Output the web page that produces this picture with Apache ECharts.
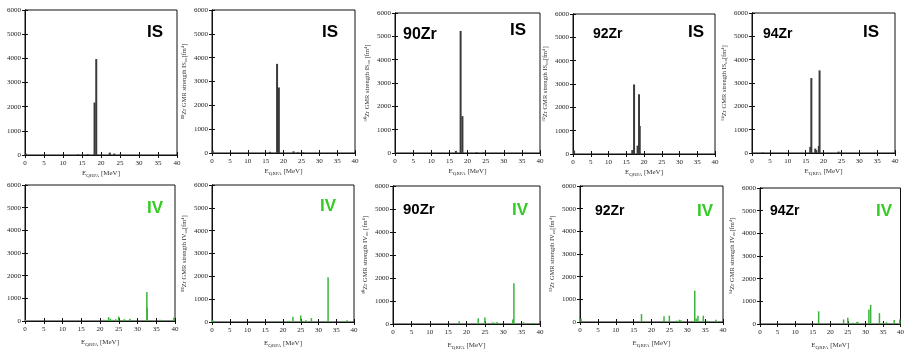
<!DOCTYPE html>
<html><head><meta charset="utf-8">
<script src="https://cdn.jsdelivr.net/npm/echarts@6/dist/echarts.min.js"></script>
<style>html,body{margin:0;padding:0;background:#fff}#c{width:907px;height:351px}</style>
</head><body><div id="c"></div>
<script>
// ---- data: [energy MeV, strength fm^4] ----
const IS_P1 = [[0.2,60],[14,20],[16.5,30],[18.3,2170],[18.75,3970],[22.3,100],[23.5,60],[25,20]];
const IS_P2 = [[0.2,100],[16.2,50],[18.2,3740],[18.7,2750],[22.8,70],[24,30],[25.5,20]];
const IS_90 = [[16.8,90],[18.1,5230],[18.6,1580],[22.5,30],[24.5,20]];
const IS_92 = [[0.3,150],[16.7,170],[17.2,2980],[18.2,360],[18.6,2560],[18.8,1200]];
const IS_94 = [[3,20],[16.3,260],[16.6,3210],[17.7,190],[18.0,120],[18.7,300],[18.9,3540],[24.2,60],[25,30]];
const IV_P1 = [[0.2,50],[21,50],[22.3,170],[22.8,100],[23.5,60],[24.2,80],[25,200],[26.5,80],[28,100],[32.5,1280],[32.6,580],[36,50],[38,30],[39.7,150]];
const IV_P2 = [[0.2,80],[18.3,40],[21.5,40],[22.8,230],[25,280],[26.5,80],[28,170],[32.7,1960],[36.5,40],[38,80]];
const IV_90 = [[18,120],[22,30],[23.2,250],[25,280],[27,70],[27.5,60],[28.3,90],[32.6,200],[32.9,1770],[35.5,80],[38,50],[38.5,30]];
const IV_92 = [[0.3,150],[17.2,350],[23.5,250],[25,280],[27,60],[27.8,100],[28.2,80],[32.1,1380],[32.5,150],[33,280],[34.5,280],[35.5,60],[36,40],[38,100],[39,30]];
const IV_94 = [[16.7,560],[18.5,20],[22,30],[23.8,200],[25,280],[26.5,50],[27.5,80],[27.8,100],[31,640],[31.5,840],[34,480],[35,60],[36,80],[38.2,180],[39.8,200]];
const xTickLabels = ['0','5','10','15','20','25','30','35','40'];
const yTickLabels = ['0','1000','2000','3000','4000','5000','6000'];
const yTitles = ['', '⁸⁸Zr GMR strength IS₀₀[fm⁴]', '⁹⁰Zr GMR strength IS₀₀ [fm⁴]', '⁹²Zr GMR strength IS₀₀[fm⁴]', '⁹⁴Zr GMR strength IS₀₀[fm⁴]',
                 '', '⁸⁸Zr GMR strength IV₀₀[fm⁴]', '⁹⁰Zr GMR strength IV₀₀ [fm⁴]', '⁹²Zr GMR strength IV₀₀[fm⁴]', '⁹⁴Zr GMR strength IV₀₀[fm⁴]'];
const nucLabels = ['', '', '90Zr', '92Zr', '94Zr', '', '', '90Zr', '92Zr', '94Zr'];
const modeLabels = ['IS','IS','IS','IS','IS','IV','IV','IV','IV','IV'];
const panelData = [IS_P1, IS_P2, IS_90, IS_92, IS_94, IV_P1, IV_P2, IV_90, IV_92, IV_94];

// ---- layout ----
const grids = [
  {left:25, top:10, width:152, height:145},
  {left:212, top:10, width:143, height:143},
  {left:395, top:13, width:145, height:140},
  {left:573, top:14, width:142, height:140},
  {left:752, top:13, width:143, height:140},
  {left:25, top:185, width:150, height:136},
  {left:212, top:185, width:142, height:137},
  {left:393, top:186, width:147, height:138},
  {left:580, top:186, width:143, height:136},
  {left:760, top:188, width:144, height:136}
];
const nucPos = [null,null,[403,27,16],[593,27,14],[763,27,14],null,null,[403,202,15],[595,204,14],[770,204,14]];
const modePos = [[147,24],[322,24],[510,22],[688,24],[863,24],[147,200],[320,198],[512,202],[697,203],[876,203]];

const serif = 'Liberation Serif';
const opt = {animation:false, backgroundColor:'#fff', grid:[], xAxis:[], yAxis:[], series:[], graphic:[]};
grids.forEach((g,i)=>{
  opt.grid.push(Object.assign({show:true, borderColor:'#111', borderWidth:1, containLabel:false}, g));
  const bottomRow = i>=5;
  const xTitle = {rich:{e:{fontFamily:serif,fontSize:7,color:'#333'},s:{fontFamily:serif,fontSize:5,color:'#333',padding:[4,0,0,0]}}};
  opt.xAxis.push({gridIndex:i, type:'value', min:0, max:40, interval:5,
    axisLine:{show:true,lineStyle:{color:'#111',width:1}}, axisTick:{inside:true,length:3,lineStyle:{color:'#111'}},
    axisLabel:{fontFamily:serif,fontSize:7,color:'#222',margin:5,formatter:(v)=>xTickLabels[Math.round(v/5)]},
    splitLine:{show:false},
    name:'{e|E}{s|QRPA}{e| [MeV]}', nameLocation:'middle', nameGap: bottomRow?17:14, nameTextStyle:xTitle});
  opt.xAxis.push({gridIndex:i, type:'value', min:0, max:40, interval:5, position:'top',
    axisLine:{show:true,lineStyle:{color:'#111'}}, axisTick:{inside:true,length:3,lineStyle:{color:'#111'}},
    axisLabel:{show:false}, splitLine:{show:false}});
  opt.yAxis.push({gridIndex:i, type:'value', min:0, max:6000, interval:1000,
    axisLine:{show:true,lineStyle:{color:'#111'}}, axisTick:{inside:true,length:3,lineStyle:{color:'#111'}},
    axisLabel:{fontFamily:serif,fontSize:7,color:'#222',margin:4,formatter:(v)=>yTickLabels[Math.round(v/1000)]},
    splitLine:{show:false},
    name:yTitles[i], nameLocation:'middle', nameGap:24, nameRotate:90,
    nameTextStyle:{fontFamily:serif,fontSize:6.5,color:'#333'}});
  opt.yAxis.push({gridIndex:i, type:'value', min:0, max:6000, interval:1000, position:'right',
    axisLine:{show:true,lineStyle:{color:'#111'}}, axisTick:{inside:true,length:3,lineStyle:{color:'#111'}},
    axisLabel:{show:false}, splitLine:{show:false}});
  opt.series.push({type:'bar', xAxisIndex:2*i, yAxisIndex:2*i, data:panelData[i], barWidth: bottomRow?1.5:2,
    itemStyle:{color: bottomRow ? '#3cb43c' : '#3a3a3a'}, silent:true});
  const mp = modePos[i];
  opt.graphic.push({type:'text', left:mp[0], top:mp[1], silent:true,
    style:{text:modeLabels[i], font:'bold 17px "Liberation Sans"', fill: bottomRow ? '#33cc22' : '#000'}});
  const np = nucPos[i];
  if (np) opt.graphic.push({type:'text', left:np[0], top:np[1], silent:true,
    style:{text:nucLabels[i], font:'bold '+np[2]+'px "Liberation Sans"', fill:'#000'}});
});
const chart = echarts.init(document.getElementById('c'), null, {renderer:'canvas'});
chart.setOption(opt);
</script>
</body></html>
